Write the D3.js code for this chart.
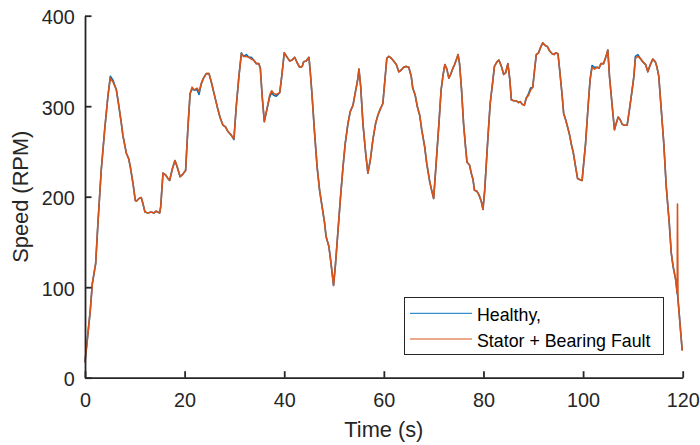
<!DOCTYPE html>
<html>
<head>
<meta charset="utf-8">
<script src="https://cdn.jsdelivr.net/npm/d3@7"></script>
<style>
  html, body { margin: 0; padding: 0; background: #fff; }
  svg { display: block; font-family: "Liberation Sans", Arial, Helvetica, sans-serif; }
</style>
</head>
<body>
<svg id="chart" width="700" height="445"></svg>
<script>
// Motor speed over a 120 s drive cycle, healthy vs. stator + bearing fault
const time = [0,1.07,1.47,2.14,2.6,3.27,3.95,4.6,5.08,5.6,
  6.3,6.8,7.3,7.6,8.3,8.77,9.1,9.63,10.1,10.3,
  10.84,11.3,11.6,12.04,12.64,13.3,13.8,14.3,15.0,15.2,
  15.66,16.2,16.66,17.0,17.5,18.06,18.5,19.1,19.66,20.2,
  20.67,21.1,21.5,21.9,22.5,22.9,23.35,23.8,24.35,24.9,
  25.35,26.0,26.7,27.15,27.7,28.24,28.7,29.36,29.9,30.37,
  30.9,31.4,31.85,32.4,32.9,33.4,33.86,34.4,34.9,35.2,
  35.6,36.0,36.5,37.07,37.47,37.87,38.4,39.1,39.5,40.0,
  40.6,41.1,41.6,42.1,42.6,43.1,43.6,43.9,44.4,44.96,
  45.2,45.56,46.1,46.6,47.1,47.6,48.1,48.4,48.97,49.4,
  49.9,50.3,50.8,51.25,51.8,52.25,52.8,53.25,53.8,54.1,
  54.5,54.8,55.0,55.35,55.8,56.35,56.8,57.3,57.8,58.35,
  58.8,59.3,59.8,60.15,60.6,61.0,61.5,61.96,62.5,63.0,
  63.5,63.97,64.5,65.0,65.5,65.8,66.3,66.7,67.2,67.6,
  68.2,68.6,69.2,69.6,70.0,70.5,71.06,71.5,71.9,72.25,
  72.65,73.05,73.4,73.86,74.2,74.66,74.9,75.2,75.6,76.0,
  76.4,76.7,77.2,77.55,77.9,78.2,78.7,79.1,79.56,79.9,
  80.25,80.9,81.35,81.9,82.2,82.7,83.1,83.6,84.06,84.46,
  84.9,85.3,85.6,86.06,86.6,87.06,87.4,87.8,88.2,88.6,
  89.06,89.46,89.9,90.26,90.6,91.06,91.47,91.9,92.4,92.8,
  93.3,93.8,94.2,94.5,94.96,95.3,95.76,96.1,96.5,96.8,
  97.3,97.6,98.06,98.5,98.9,99.3,99.8,100.5,100.96,101.4,
  101.8,102.3,102.8,103.2,103.6,104.1,104.6,104.97,105.3,105.85,
  106.3,106.65,107.05,107.45,107.85,108.3,108.85,109.3,109.85,110.2,
  110.5,111.0,111.45,112.0,112.55,113.0,113.5,114.0,114.5,114.8,
  115.2,115.7,116.2,116.7,117.3,117.7,118.07,118.6,118.9,118.95,
  119.05,119.9];

const healthy = [17,75,104,126,171,230,274,311,333,329,
  318,300,281,268,248,242,233,215,196,195,
  198,199,193,183,182,183,182,184,182,189,
  226,224,220,218,230,240,233,222,225,229,
  277,314,319,318,318,313,325,331,336,336,
  327,312,296,287,279,277,272,268,263,300,
  333,359,355,357,354,354,351,347,347,342,
  309,283,296,310,315,312,311,315,333,359,
  354,350,351,354,348,343,344,349,350,354,
  340,314,270,233,207,189,171,156,145,126,
  102,126,163,196,233,259,281,294,301,310,
  322,331,341,322,281,248,226,241,263,281,
  290,297,303,325,353,355,353,350,346,338,
  340,343,344,343,333,320,312,300,290,274,
  255,237,217,207,198,237,281,318,335,346,
  341,331,335,342,346,353,357,347,318,281,
  255,238,235,226,219,207,206,202,195,186,
  207,266,303,329,344,349,351,344,335,337,
  347,329,307,306,306,304,305,302,301,309,
  314,320,321,340,357,359,365,370,367,366,
  361,358,357,359,358,340,314,292,285,279,
  268,259,248,233,220,219,218,259,296,329,
  345,343,343,342,347,347,355,362,333,300,
  274,281,288,285,280,279,279,296,318,333,
  355,357,353,349,346,338,346,352,349,344,
  333,296,259,211,171,138,123,108,93,92,
  88,30];

const fault = [17,75,104,126,171,230,274,311,331,327,
  318,300,281,268,248,242,233,215,196,195,
  198,199,193,183,182,183,182,184,182,189,
  226,224,220,218,230,240,233,222,225,229,
  277,314,321,318,320,316,325,331,336,336,
  327,312,296,287,279,277,272,268,264,300,
  333,358,355,355,354,352,351,347,347,342,
  309,283,296,312,317,314,313,315,333,359,
  354,350,351,354,348,343,344,349,350,354,
  340,314,270,233,207,189,171,156,145,126,
  102,126,163,196,233,259,281,294,301,310,
  322,331,341,322,281,248,226,241,263,281,
  290,297,303,325,353,355,353,350,346,338,
  340,343,344,343,333,320,312,300,290,274,
  255,237,217,207,198,237,281,318,335,346,
  341,331,335,342,346,353,357,347,318,281,
  255,238,235,226,219,207,206,202,195,186,
  207,266,303,329,344,349,351,344,335,337,
  347,329,307,306,306,304,305,302,301,309,
  312,318,321,340,357,359,365,370,367,366,
  361,358,357,359,358,340,314,292,285,279,
  268,259,248,233,220,219,218,259,296,329,
  343,341,343,342,347,347,355,362,333,300,
  274,281,288,285,280,279,279,296,318,333,
  353,355,353,349,346,338,346,352,349,344,
  333,296,259,211,171,138,123,108,93,192,
  86,30];

const xTicks = [0, 20, 40, 60, 80, 100, 120];
const yTicks = [0, 100, 200, 300, 400];
const seriesNames = ["Healthy,", "Stator + Bearing Fault"];
const seriesColors = ["#0072BD", "#D95319"];

const svg = d3.select("#chart");
const ink = "#262626";

const x = d3.scaleLinear().domain([0, 120]).range([85, 682.7]);
const y = d3.scaleLinear().domain([0, 400]).range([377.7, 15.7]);

// Series lines
const line = d3.line().x(d => x(d[0])).y(d => y(d[1]));
[healthy, fault].forEach((vals, i) => {
  svg.append("path")
    .datum(d3.zip(time, vals))
    .attr("fill", "none")
    .attr("stroke", seriesColors[i])
    .attr("stroke-width", 1.6)
    .attr("stroke-linejoin", "round")
    .attr("d", line);
});

// Axes with inward ticks, no box
const xAxis = svg.append("g")
  .attr("transform", `translate(0,${y(0)})`)
  .call(d3.axisBottom(x).tickValues(xTicks).tickSizeInner(-6.5).tickSizeOuter(0).tickPadding(15));
const yAxis = svg.append("g")
  .attr("transform", `translate(${x(0)},0)`)
  .call(d3.axisLeft(y).tickValues(yTicks).tickSizeInner(-6.5).tickSizeOuter(0).tickPadding(10.3));

[xAxis, yAxis].forEach(g => {
  g.select(".domain").attr("stroke", ink).attr("stroke-width", 1.8);
  g.selectAll(".tick line").attr("stroke", ink).attr("stroke-width", 1.8);
  g.selectAll(".tick text")
    .attr("fill", ink)
    .style("font-size", "19.8px")
    .style("font-family", "'Liberation Sans', Arial, sans-serif");
  g.attr("font-family", null).attr("font-size", null);
});
yAxis.selectAll(".tick text").attr("dy", "0.41em");

// Axis titles
svg.append("text")
  .attr("x", (x(0) + x(120)) / 2)
  .attr("y", 436.7)
  .attr("text-anchor", "middle")
  .attr("fill", ink)
  .style("font-size", "21.8px")
  .text("Time (s)");

svg.append("text")
  .attr("transform", `translate(28,${(y(0) + y(400)) / 2}) rotate(-90)`)
  .attr("text-anchor", "middle")
  .attr("fill", ink)
  .style("font-size", "21.8px")
  .text("Speed (RPM)");

// Legend
const legend = svg.append("g");
legend.append("rect")
  .attr("x", 404.5).attr("y", 297.5)
  .attr("width", 259).attr("height", 57)
  .attr("fill", "#fff")
  .attr("stroke", ink)
  .attr("stroke-width", 1);
const rowY = [313.3, 339];
const rowBase = [321, 346.7];
seriesNames.forEach((name, i) => {
  legend.append("line")
    .attr("x1", 410).attr("x2", 472)
    .attr("y1", rowY[i]).attr("y2", rowY[i])
    .attr("stroke", seriesColors[i])
    .attr("stroke-width", 1);
  legend.append("text")
    .attr("x", 477)
    .attr("y", rowBase[i])
    .attr("fill", "#000")
    .style("font-size", "17.8px")
    .text(name);
});
</script>
</body>
</html>
